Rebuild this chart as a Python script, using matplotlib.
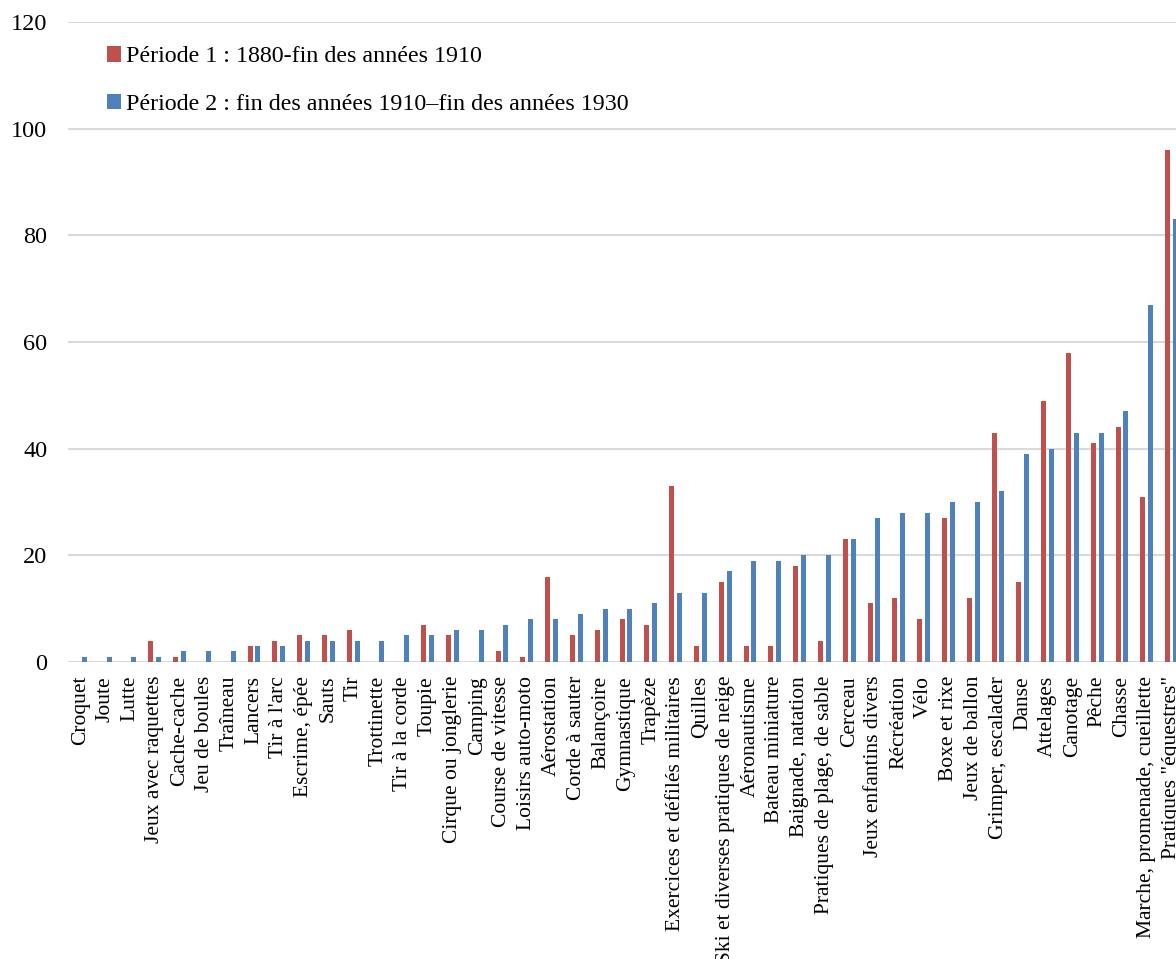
import matplotlib.pyplot as plt
import numpy as np

categories = [
    "Croquet", "Joute", "Lutte", "Jeux avec raquettes", "Cache-cache",
    "Jeu de boules", "Traîneau", "Lancers", "Tir à l'arc", "Escrime, épée",
    "Sauts", "Tir", "Trottinette", "Tir à la corde", "Toupie",
    "Cirque ou jonglerie", "Camping", "Course de vitesse", "Loisirs auto-moto",
    "Aérostation", "Corde à sauter", "Balançoire", "Gymnastique", "Trapèze",
    "Exercices et défilés militaires", "Quilles",
    "Ski et diverses pratiques de neige", "Aéronautisme", "Bateau miniature",
    "Baignade, natation", "Pratiques de plage, de sable", "Cerceau",
    "Jeux enfantins divers", "Récréation", "Vélo", "Boxe et rixe",
    "Jeux de ballon", "Grimper, escalader", "Danse", "Attelages", "Canotage",
    "Pêche", "Chasse", "Marche, promenade, cueillette", 'Pratiques "équestres"',
]
periode1 = [0, 0, 0, 4, 1, 0, 0, 3, 4, 5, 5, 6, 0, 0, 7, 5, 0, 2, 1, 16,
            5, 6, 8, 7, 33, 3, 15, 3, 3, 18, 4, 23, 11, 12, 8, 27, 12, 43,
            15, 49, 58, 41, 44, 31, 96]
periode2 = [1, 1, 1, 1, 2, 2, 2, 3, 3, 4, 4, 4, 4, 5, 5, 6, 6, 7, 8, 8,
            9, 10, 10, 11, 13, 13, 17, 19, 19, 20, 20, 23, 27, 28, 28, 30,
            30, 32, 39, 40, 43, 43, 47, 67, 83]
labels = ["Période 1 : 1880-fin des années 1910",
          "Période 2 : fin des années 1910\u2013fin des années 1930"]

plt.rcParams['font.family'] = ['Liberation Serif', 'DejaVu Serif']

fig = plt.figure(figsize=(11.76, 9.59), dpi=100)
ax = fig.add_axes([68 / 1176, 1 - 662 / 959, 1116 / 1176, 640 / 959])

x = np.arange(len(categories))
ax.bar(x - 0.16, periode1, width=0.2, color="#C0504D", label=labels[0], zorder=3)
ax.bar(x + 0.16, periode2, width=0.2, color="#4F81BD", label=labels[1], zorder=3)

ax.set_xlim(-0.5, len(categories) - 0.5)
ax.set_ylim(0, 120)
ax.set_yticks(range(0, 121, 20))
ax.set_xticks(x)
ax.set_xticklabels(categories, rotation=90, fontsize=15.5)
ax.tick_params(axis='y', labelsize=17.5, length=0, pad=15)
ax.tick_params(axis='x', length=0, pad=10)
ax.yaxis.grid(True, color="#D9D9D9", linewidth=1.5, zorder=0)
for s in ax.spines.values():
    s.set_visible(False)

ax.legend(loc="upper left", bbox_to_anchor=(0.035, 0.962), frameon=False,
          fontsize=17.3, handlelength=0.6, handleheight=0.6, handletextpad=0.2,
          labelspacing=1.1, borderpad=0, borderaxespad=0)

plt.savefig("out.png", dpi=100)
